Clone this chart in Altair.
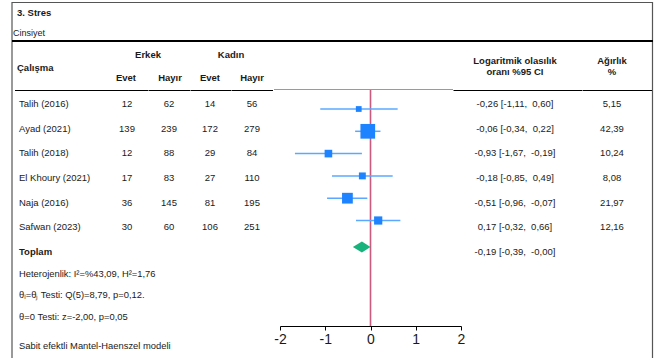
import altair as alt
import pandas as pd

# ---- data -------------------------------------------------------------
studies = ["Talih (2016)", "Ayad (2021)", "Talih (2018)",
           "El Khoury (2021)", "Naja (2016)", "Safwan (2023)"]
male_yes = [12, 139, 12, 17, 36, 30]
male_no = [62, 239, 88, 83, 145, 60]
female_yes = [14, 172, 29, 27, 81, 106]
female_no = [56, 279, 84, 110, 195, 251]
log_or = [-0.26, -0.06, -0.93, -0.18, -0.51, 0.17]
ci_low = [-1.11, -0.34, -1.67, -0.85, -0.96, -0.32]
ci_high = [0.60, 0.22, -0.19, 0.49, -0.07, 0.66]
weights = [5.15, 42.39, 10.24, 8.08, 21.97, 12.16]

pooled_est = -0.19
pooled_low = -0.39
pooled_high = -0.0

axis_ticks = [-2, -1, 0, 1, 2]

stats_lines = [
    "Heterojenlik: I²=%43,09, H²=1,76",
    "θᵢ=θⱼ Testi: Q(5)=8,79, p=0,12.",
    "θ=0 Testi: z=-2,00, p=0,05",
    "Sabit efektli Mantel-Haenszel modeli",
]


def tr(v):
    """Number with two decimals and a decimal comma."""
    return f"{v:.2f}".replace(".", ",")


def ci_text(e, lo, hi):
    return f"{tr(e)} [{tr(lo)}, \u00a0{tr(hi)}]"


df = pd.DataFrame({
    "row": list(range(len(studies))),
    "study": studies,
    "m_yes": male_yes,
    "m_no": male_no,
    "f_yes": female_yes,
    "f_no": female_no,
    "est": log_or,
    "lo": ci_low,
    "hi": ci_high,
    "weight": weights,
    "ci": [ci_text(e, l, h) for e, l, h in zip(log_or, ci_low, ci_high)],
    "w_txt": [tr(w) for w in weights],
})

total_row = len(studies)
df_total = pd.DataFrame({
    "row": [total_row],
    "label": ["Toplam"],
    "ci": [ci_text(pooled_est, pooled_low, pooled_high)],
})

# diamond outline: tips at the interval ends, full height at the estimate
half = 0.25
df_diamond = pd.DataFrame({
    "x": [pooled_low, pooled_est, pooled_high],
    "top": [total_row, total_row - half, total_row],
    "bottom": [total_row, total_row + half, total_row],
})

# ---- styling ----------------------------------------------------------
FONT = "Liberation Sans"
TXT = "#1a1a1a"
FS = 9.5

x_scale = alt.Scale(domain=[-2, 2], range=[280, 461])
table_y = alt.Scale(domain=[0, total_row], range=[104, 252])
forest_y = alt.Scale(domain=[0, total_row - 1], range=[109, 220.5])
pool_y = alt.Scale(domain=[total_row - 0.5, total_row + 0.5], range=[235.8, 258.2])

x_axis = alt.Axis(
    values=axis_ticks, labelExpr="'' + datum.value", title=None, grid=False,
    domainColor="#000", domainWidth=1, tickColor="#000", tickSize=4, tickWidth=1,
    labelFont=FONT, labelFontSize=14, labelColor=TXT, labelPadding=2,
    labelFlush=False,
)

base = alt.Chart(df)


def col_text(field, xpos, align="center", bold=False, data=None):
    src = alt.Chart(data) if data is not None else base
    return src.mark_text(
        font=FONT, fontSize=FS, color=TXT, align=align, baseline="middle",
        fontWeight="bold" if bold else "normal",
    ).encode(
        x=alt.value(xpos),
        y=alt.Y("row:Q", scale=table_y, axis=None),
        text=f"{field}:N",
    )


def label(txt, xpos, ypos, align="center", bold=False, size=FS):
    return alt.Chart(pd.DataFrame({"t": [txt]})).mark_text(
        font=FONT, fontSize=size, color=TXT, align=align, baseline="middle",
        fontWeight="bold" if bold else "normal",
    ).encode(x=alt.value(xpos), y=alt.value(ypos), text="t:N")


def hline(x1, x2, ypos, color="#000", width=1.0):
    return alt.Chart(pd.DataFrame({"a": [0]})).mark_rule(
        color=color, strokeWidth=width
    ).encode(x=alt.value(x1), x2=alt.value(x2), y=alt.value(ypos))


def vline(xpos, y1, y2, color="#555", width=1.0):
    return alt.Chart(pd.DataFrame({"a": [0]})).mark_rule(
        color=color, strokeWidth=width
    ).encode(x=alt.value(xpos), y=alt.value(y1), y2=alt.value(y2))


# ---- frame and header -------------------------------------------------
frame = [
    hline(12, 653, 2.5, color="#555", width=1),
    vline(12, 2, 358, color="#555", width=1.2),
    vline(652.5, 2, 358, color="#555", width=1.2),
    hline(12, 653, 41, color="#000", width=2),
    hline(15, 148, 90.5), hline(148.5, 190, 90.5), hline(190.5, 231, 90.5),
    hline(231.5, 273, 90.5),
    hline(274, 453, 89.5, color="#9a9a9a", width=1),
    hline(453.5, 582, 90.5), hline(582.5, 652, 90.5),
]

header = [
    label("3. Stres", 17, 13, align="left", bold=True),
    label("Cinsiyet", 13, 33, align="left", size=9),
    label("Çalışma", 17, 68, align="left", bold=True),
    label("Erkek", 148, 55, bold=True),
    label("Kadın", 231, 55, bold=True),
    label("Evet", 126, 78, bold=True),
    label("Hayır", 170, 78, bold=True),
    label("Evet", 210, 78, bold=True),
    label("Hayır", 252, 78, bold=True),
    label("Logaritmik olasılık", 515, 61, bold=True),
    label("oranı %95 CI", 515, 72, bold=True),
    label("Ağırlık", 612, 61, bold=True),
    label("%", 612, 72, bold=True),
]

# ---- table body -------------------------------------------------------
table = [
    col_text("study", 19, align="left"),
    col_text("m_yes", 127),
    col_text("m_no", 169),
    col_text("f_yes", 210),
    col_text("f_no", 252),
    col_text("ci", 515),
    col_text("w_txt", 612),
    col_text("label", 19, align="left", bold=True, data=df_total),
    col_text("ci", 515, data=df_total),
]

stats = [
    label(stats_lines[0], 19, 274, align="left", size=9.4),
    label(stats_lines[1], 19, 295, align="left", size=9.4),
    label(stats_lines[2], 19, 317, align="left", size=9.4),
    label(stats_lines[3], 19, 346, align="left", size=9.4),
]

# ---- forest plot ------------------------------------------------------
null_line = alt.Chart(pd.DataFrame({"z": [0]})).mark_rule(
    color="#cc5a7c", strokeWidth=1.6
).encode(
    x=alt.X("z:Q", scale=x_scale, axis=x_axis),
    y=alt.value(90), y2=alt.value(326),
)

ci_lines = base.mark_rule(color="#5aa8ff", strokeWidth=1.5).encode(
    x=alt.X("lo:Q", scale=x_scale, axis=x_axis),
    x2="hi:Q",
    y=alt.Y("row:Q", scale=forest_y, axis=None),
)

squares = base.mark_square(color="#1e83ff", opacity=1).encode(
    x=alt.X("est:Q", scale=x_scale, axis=x_axis),
    y=alt.Y("row:Q", scale=forest_y, axis=None),
    size=alt.Size("weight:Q", scale=alt.Scale(domain=[0, max(weights)], range=[8, 216]),
                  legend=None),
)

diamond = alt.Chart(df_diamond).mark_area(
    color="#18b37c", orient="vertical", opacity=1
).encode(
    x=alt.X("x:Q", scale=x_scale, axis=x_axis),
    y=alt.Y("top:Q", scale=pool_y, axis=None),
    y2="bottom:Q",
)

chart = alt.layer(
    *frame, *header, *table, *stats,
    null_line, ci_lines, squares, diamond,
).resolve_scale(
    y="independent"
).properties(
    width=656, height=326,
    background="white",
    autosize=alt.AutoSizeParams(type="none"),
    padding={"left": 0, "top": 0, "right": 0, "bottom": 32},
).configure_view(
    strokeWidth=0, stroke="transparent"
)

chart.save("out.html", embed_options={"renderer": "svg", "actions": False})
